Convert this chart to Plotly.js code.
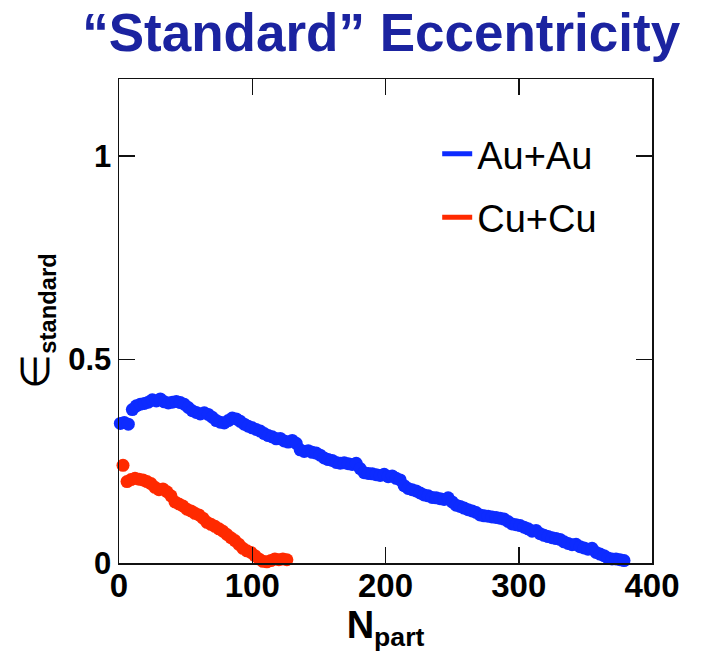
<!DOCTYPE html>
<html>
<head>
<meta charset="utf-8">
<script src="https://cdn.plot.ly/plotly-3.0.1.min.js"></script>
<style>html,body{margin:0;padding:0;background:#fff;}#chart{width:702px;height:658px;}</style>
</head>
<body>
<div id="chart"></div>
<script>
// Au+Au: N_part vs standard eccentricity
const auNpart = [1,4,7,10,13,16,19,22,25,28,31,34,37,40,43,46,49,52,55,58,61,64,67,70,73,76,79,82,85,88,91,94,97,100,103,106,109,112,115,118,121,124,127,130,133,136,139,142,145,148,151,154,157,160,163,166,169,172,175,178,181,184,187,190,193,196,199,202,205,208,211,214,217,220,223,226,229,232,235,238,241,244,247,250,253,256,259,262,265,268,271,274,277,280,283,286,289,292,295,298,301,304,307,310,313,316,319,322,325,328,331,334,337,340,343,346,349,352,355,358,361,364,367,370,373,376,379];
const auEcc = [0.343,0.345,0.341,0.377,0.386,0.390,0.392,0.395,0.401,0.398,0.403,0.396,0.393,0.395,0.397,0.394,0.390,0.382,0.374,0.370,0.366,0.369,0.365,0.358,0.350,0.346,0.344,0.350,0.356,0.354,0.348,0.341,0.336,0.332,0.328,0.324,0.318,0.313,0.310,0.305,0.306,0.300,0.297,0.301,0.294,0.278,0.274,0.276,0.272,0.270,0.265,0.258,0.254,0.252,0.247,0.245,0.246,0.244,0.242,0.245,0.232,0.222,0.220,0.219,0.217,0.215,0.218,0.212,0.214,0.208,0.204,0.190,0.183,0.180,0.177,0.172,0.167,0.165,0.161,0.160,0.158,0.156,0.160,0.150,0.142,0.139,0.135,0.131,0.128,0.124,0.118,0.116,0.115,0.113,0.112,0.110,0.108,0.102,0.096,0.094,0.092,0.088,0.084,0.078,0.080,0.072,0.068,0.065,0.062,0.060,0.058,0.052,0.048,0.045,0.046,0.040,0.037,0.034,0.036,0.026,0.022,0.018,0.012,0.010,0.010,0.008,0.006];
// Cu+Cu
const cuNpart = [3,6,9,12,15,18,21,24,27,30,33,36,39,42,45,48,51,54,57,60,63,66,69,72,75,78,81,84,87,90,93,96,99,102,105,108,111,114,117,120,123,126];
const cuEcc = [0.240,0.200,0.205,0.208,0.206,0.204,0.200,0.195,0.186,0.180,0.182,0.175,0.165,0.150,0.145,0.140,0.132,0.128,0.122,0.118,0.110,0.100,0.095,0.090,0.084,0.078,0.070,0.062,0.055,0.046,0.036,0.030,0.026,0.018,0.010,0.004,0.003,0.006,0.010,0.008,0.010,0.008];

const seriesNames = ["Au+Au", "Cu+Cu"];
const xTicks = [0, 100, 200, 300, 400];
const yTicks = [0, 0.5, 1];
const yTickText = ["0", "0.5", "1"];

const BLUE = "#0d2bff", RED = "#ff2a00";

const traces = [
  {x: auNpart, y: auEcc, type: "scatter", mode: "markers", cliponaxis: false,
   marker: {color: BLUE, size: 13}, showlegend: false, hoverinfo: "x+y"},
  {x: cuNpart, y: cuEcc, type: "scatter", mode: "markers", cliponaxis: false,
   marker: {color: RED, size: 13}, showlegend: false, hoverinfo: "x+y"},
  {x: [null], y: [null], type: "scatter", mode: "lines", name: seriesNames[0],
   line: {color: BLUE, width: 5}, legendgroup: "a"},
  {x: [null], y: [null], type: "scatter", mode: "lines", name: seriesNames[1],
   line: {color: RED, width: 5}, legendgroup: "b"}
];

const axisCommon = {
  showline: true, linecolor: "#111", linewidth: 1.5, mirror: "ticks",
  ticks: "inside", ticklen: 16, tickwidth: 1.5, tickcolor: "#111",
  showgrid: false, zeroline: false, fixedrange: true
};

const layout = {
  width: 702, height: 658,
  margin: {l: 119, r: 50, t: 79, b: 95},
  paper_bgcolor: "#fff", plot_bgcolor: "#fff",
  font: {family: "Liberation Sans, Arial, sans-serif", color: "#000"},
  title: {
    text: "“Standard” Eccentricity",
    font: {family: "Liberation Sans, Arial, sans-serif", size: 53, color: "#1b23a0", weight: "bold"},
    x: 0.543, xanchor: "center", y: 0.951, yanchor: "middle", yref: "container"
  },
  xaxis: Object.assign({}, axisCommon, {
    range: [0, 400], tickvals: xTicks,
    tickfont: {size: 33, weight: "bold", color: "#000"},
    ticklabelstandoff: -7,
    title: {text: "N<sub>part</sub>", font: {size: 38, weight: "bold", color: "#000"}, standoff: 6}
  }),
  yaxis: Object.assign({}, axisCommon, {
    range: [0, 1.189], tickvals: yTicks, ticktext: yTickText,
    tickfont: {size: 31, weight: "bold", color: "#000"},
    title: {text: "<span style=\"font-weight:normal;font-size:40px\">∈</span><sub>standard</sub>", font: {size: 34, weight: "bold", color: "#000"}, standoff: 8}
  }),
  legend: {
    x: 0.597, y: 0.91, xanchor: "left", yanchor: "top",
    bgcolor: "rgba(0,0,0,0)", borderwidth: 0,
    font: {size: 38, color: "#000"}, tracegroupgap: 11, itemwidth: 30
  },
  showlegend: true
};

Plotly.newPlot("chart", traces, layout, {displayModeBar: false, staticPlot: true});
</script>
</body>
</html>
